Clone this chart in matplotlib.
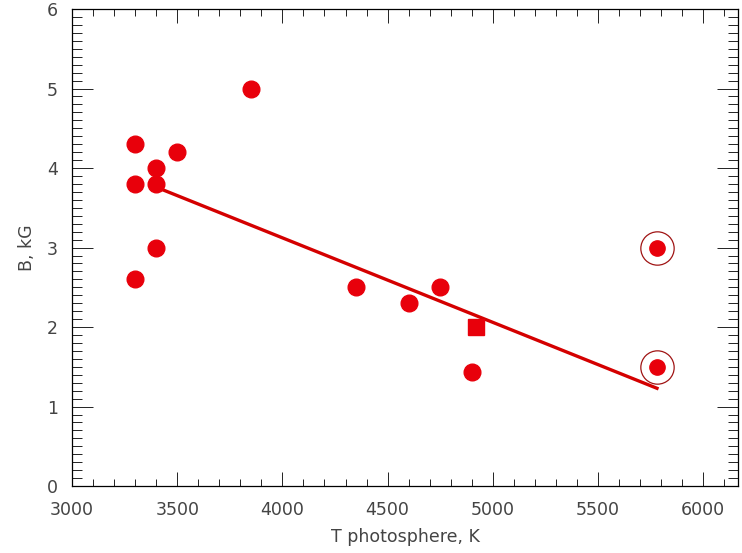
import matplotlib
matplotlib.use("Agg")
import matplotlib.pyplot as plt
from matplotlib.ticker import MultipleLocator

# stars: effective temperature (K) and field strength (kG)
t_star = [3300, 3300, 3300, 3400, 3400, 3400, 3500, 3850, 4350, 4600, 4750, 4900]
b_star = [4.3, 3.8, 2.6, 4.0, 3.8, 3.0, 4.2, 5.0, 2.5, 2.3, 2.5, 1.43]

# the one square point
t_sq = [4920]
b_sq = [2.0]

# sun (circled points)
t_sun = [5780, 5780]
b_sun = [3.0, 1.5]

# fit line end points
t_fit = [3400, 5780]
b_fit = [3.76, 1.23]

red = "#e8000b"
txt = "#444444"

fig = plt.figure(figsize=(7.42, 5.53), dpi=100)
ax = fig.add_axes([0.097, 0.121, 0.8976, 0.8627])

ax.plot(t_fit, b_fit, color="#d40000", lw=2.4, zorder=2)
ax.plot(t_star, b_star, "o", color=red, ms=12, mec=red, zorder=3)
ax.plot(t_sq, b_sq, "s", color=red, ms=11, mec=red, zorder=3)
ax.plot(t_sun, b_sun, "o", color=red, ms=11, mec=red, zorder=3)
ax.plot(t_sun, b_sun, "o", mfc="none", mec="#a01515", mew=0.9, ms=24, zorder=3)

ax.set_xlim(3000, 6165)
ax.set_ylim(0, 6)
ax.xaxis.set_major_locator(MultipleLocator(500))
ax.xaxis.set_minor_locator(MultipleLocator(100))
ax.yaxis.set_major_locator(MultipleLocator(1))
ax.yaxis.set_minor_locator(MultipleLocator(0.1))

ax.tick_params(axis="both", which="both", direction="in", top=True, right=True,
               colors="#222222", labelcolor=txt, width=0.7)
ax.tick_params(axis="x", which="major", length=10, pad=11, labelsize=12.5)
ax.tick_params(axis="x", which="minor", length=5)
ax.tick_params(axis="y", which="major", length=15, pad=10, labelsize=12.5)
ax.tick_params(axis="y", which="minor", length=7)
for s in ax.spines.values():
    s.set_linewidth(0.9)

ax.set_xlabel("T photosphere, K", fontsize=12.5, color=txt, labelpad=6)
ax.set_ylabel("B, kG", fontsize=12.5, color=txt, labelpad=8)

fig.savefig("out.png", dpi=100)
